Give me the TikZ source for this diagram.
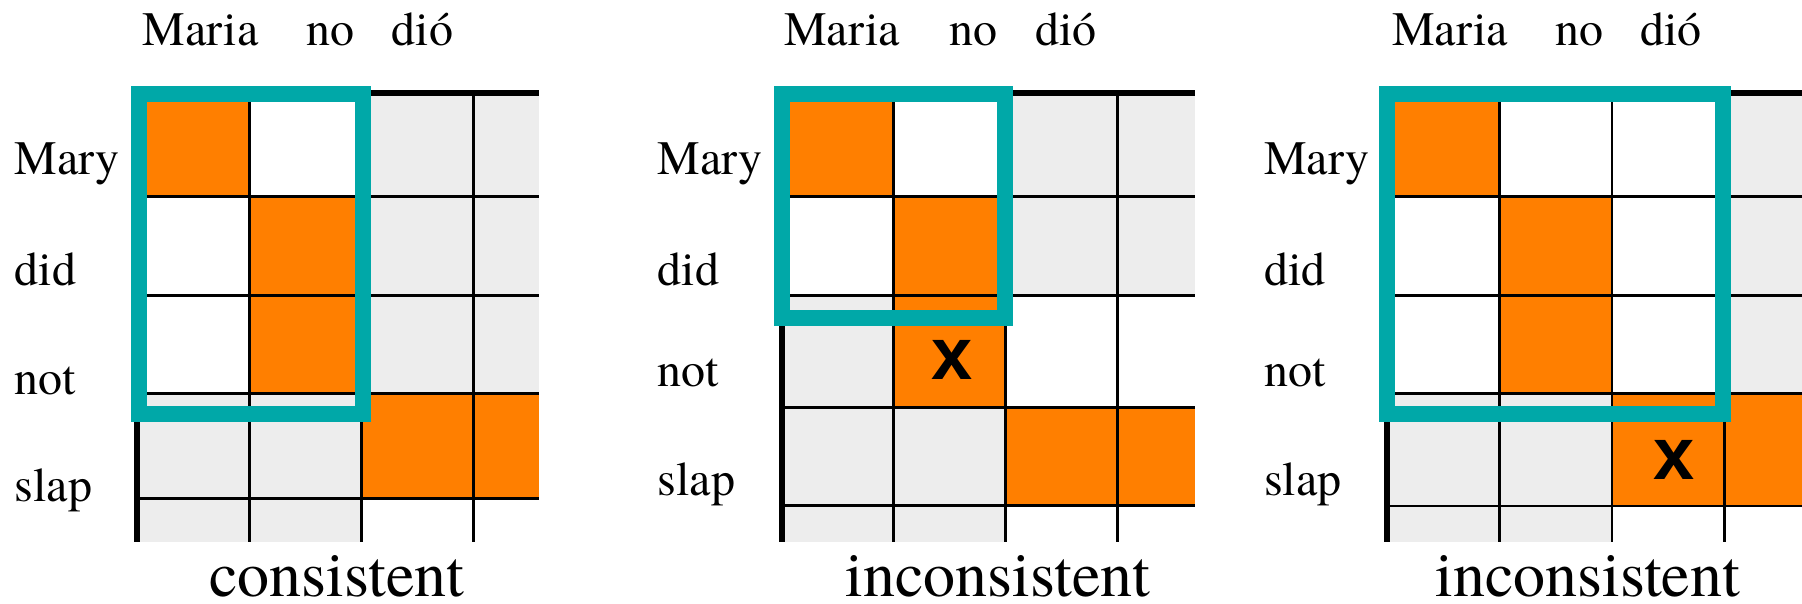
\documentclass[tikz,border=0pt]{standalone}
\usepackage{fontspec}
\setmainfont{texgyretermes}[Extension=.otf, UprightFont=*-regular, BoldFont=*-bold, ItalicFont=*-italic, BoldItalicFont=*-bolditalic]
\newfontfamily\xfont{Liberation Sans}
\definecolor{orng}{HTML}{FF7F00}
\definecolor{tealbox}{HTML}{00A8A8}
\definecolor{cellgrey}{HTML}{EDEDED}
\tikzset{
  lab/.style={inner sep=0pt, anchor=base west, font=\fontsize{48}{56}\selectfont},
  biglab/.style={inner sep=0pt, anchor=base west, font=\fontsize{64}{72}\selectfont},
  xmark/.style={inner sep=0pt, font=\xfont\bfseries\fontsize{74}{80}\selectfont},
  gridline/.style={line width=2.7pt, black},
  thickline/.style={line width=6pt, black},
  spanbox/.style={draw=tealbox, line width=16pt},
}
\begin{document}
\begin{tikzpicture}[x=1pt, y=-1pt]
\useasboundingbox (0,0) rectangle (1802,603);

% ---------- Panel 1 ----------
\fill[cellgrey] (137.3,93.3) rectangle (539,541.7);
\fill[white] (137.3,93.3) rectangle (361.7,393.3);
\fill[white] (361.7,498.7) rectangle (539,541.7);
\fill[orng] (137.3,93.3) rectangle (249.5,196.7);
\fill[orng] (249.5,196.7) rectangle (361.7,393.3);
\fill[orng] (361.7,393.3) rectangle (539,498.7);
\foreach \yy in {196.7,295.5,393.3,498.7} \draw[gridline] (137.3,\yy) -- (539,\yy);
\foreach \xx in {249.5,361.7,473.5} \draw[gridline] (\xx,93.3) -- (\xx,541.7);
\draw[thickline] (137.3,93.3) -- (539,93.3);
\draw[thickline] (137.3,93.3) -- (137.3,541.7);
\draw[spanbox] (139,93.7) rectangle (363,413.5);

\node[lab] (p1maria) at (142.7,45) {Maria};
\node[lab] (p1no) at (306.7,45) {no};
\node[lab] (p1dio) at (391.6,45) {dió};
\node[lab] (p1mary) at (14.7,174.5) {Mary};
\node[lab] (p1did) at (14.7,285.5) {did};
\node[lab] (p1not) at (14.7,394) {not};
\node[lab] (p1slap) at (14.7,501) {slap};
\node[biglab] (p1cap) at (209,596.7) {consistent};

% ---------- Panel 2 ----------
\fill[cellgrey] (781.5,93.3) rectangle (1195,541.7);
\fill[white] (781.5,93.3) rectangle (1005.5,295.5);
\fill[white] (1005.5,295.5) rectangle (1195,407.3);
\fill[white] (1005.5,505.7) rectangle (1195,541.7);
\fill[orng] (781.5,93.3) rectangle (893.5,196.7);
\fill[orng] (893.5,196.7) rectangle (1005.5,407.3);
\fill[orng] (1005.5,407.3) rectangle (1195,505.7);
\foreach \yy in {196.7,295.5,407.3,505.7} \draw[gridline] (781.5,\yy) -- (1195,\yy);
\foreach \xx in {893.5,1005.5,1117.5} \draw[gridline] (\xx,93.3) -- (\xx,541.7);
\draw[thickline] (781.5,93.3) -- (1195,93.3);
\draw[thickline] (781.5,93.3) -- (781.5,541.7);
\draw[spanbox] (781.5,93.7) rectangle (1005.3,317.5);
\node[xmark] (p2x) at (952.5,360) {x};

\node[lab] (p2maria) at (784,45) {Maria};
\node[lab] (p2no) at (949,45) {no};
\node[lab] (p2dio) at (1034.8,45) {dió};
\node[lab] (p2mary) at (657.5,174.5) {Mary};
\node[lab] (p2did) at (657.5,285.5) {did};
\node[lab] (p2not) at (657.5,386.5) {not};
\node[lab] (p2slap) at (657.5,495.8) {slap};
\node[biglab] (p2cap) at (845.5,596.7) {inconsistent};

% ---------- Panel 3 ----------
\fill[cellgrey] (1387,93.3) rectangle (1802,541.7);
\fill[white] (1387,93.3) rectangle (1724.5,393.3);
\fill[white] (1612,506) rectangle (1802,541.7);
\fill[orng] (1387,93.3) rectangle (1499.5,196.7);
\fill[orng] (1499.5,196.7) rectangle (1612,393.3);
\fill[orng] (1612,393.3) rectangle (1802,506);
\foreach \yy in {196.7,295.5,393.3,506} \draw[gridline] (1387,\yy) -- (1802,\yy);
\foreach \xx in {1499.5,1612,1724.5} \draw[gridline] (\xx,93.3) -- (\xx,541.7);
\draw[thickline] (1387,93.3) -- (1802,93.3);
\draw[thickline] (1387,93.3) -- (1387,541.7);
\draw[spanbox] (1387,93.7) rectangle (1723,413.8);
\node[xmark] (p3x) at (1674,459.5) {x};

\node[lab] (p3maria) at (1392,45) {Maria};
\node[lab] (p3no) at (1555,45) {no};
\node[lab] (p3dio) at (1640,45) {dió};
\node[lab] (p3mary) at (1264,174.5) {Mary};
\node[lab] (p3did) at (1264,285.5) {did};
\node[lab] (p3not) at (1264,386) {not};
\node[lab] (p3slap) at (1264,495.5) {slap};
\node[biglab] (p3cap) at (1435,596.7) {inconsistent};
\end{tikzpicture}
\end{document}
